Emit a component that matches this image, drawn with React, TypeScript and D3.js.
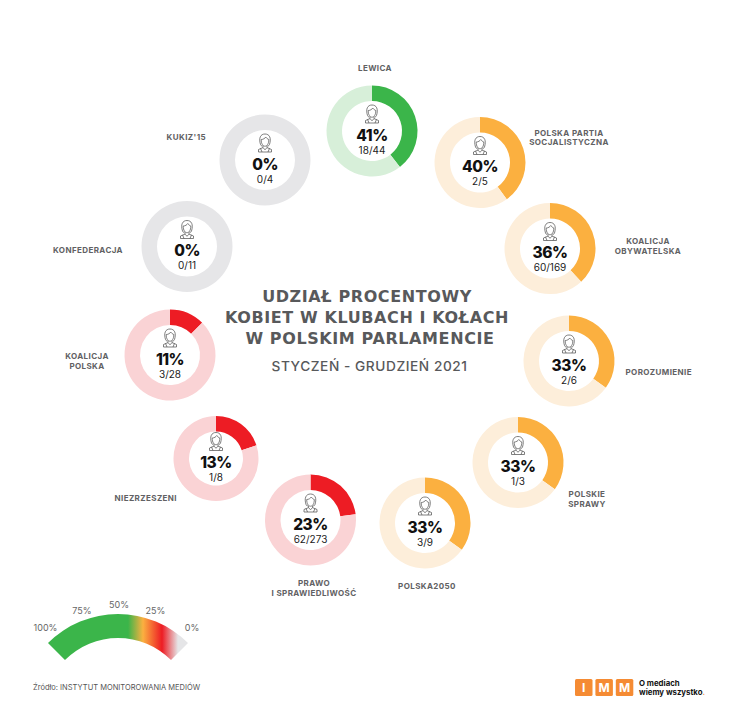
import * as d3 from "d3";

const clubs = [
  ["LEWICA"],
  ["POLSKA PARTIA", "SOCJALISTYCZNA"],
  ["KOALICJA", "OBYWATELSKA"],
  ["POROZUMIENIE"],
  ["POLSKIE", "SPRAWY"],
  ["POLSKA2050"],
  ["PRAWO", "I SPRAWIEDLIWOŚĆ"],
  ["NIEZRZESZENI"],
  ["KOALICJA", "POLSKA"],
  ["KONFEDERACJA"],
  ["KUKIZ'15"],
];
const women = [18, 2, 60, 2, 1, 3, 62, 1, 3, 0, 0];
const totals = [44, 5, 169, 6, 3, 9, 273, 8, 28, 11, 4];
const percents = [41, 40, 36, 33, 33, 33, 23, 13, 11, 0, 0];
// the coloured part of each ring as it is drawn in the picture (not always the printed %)
const arcShares = [39.5, 40, 38, 35, 35, 35, 23, 20, 12.5, 0, 0];
const scaleLabels = ["100%", "75%", "50%", "25%", "0%"];
const titleLines = ["UDZIAŁ PROCENTOWY", "KOBIET W KLUBACH I KOŁACH", "W POLSKIM PARLAMENCIE"];

// ring centres and label anchors on the page
const centers = [
  [372, 131], [480, 162.5], [550, 248.5], [569, 361], [518, 462.5], [425, 523],
  [310.5, 520], [216, 458.5], [170, 355], [187, 246.5], [265, 160],
];
const radii = [45.5, 45.5, 45.5, 45.5, 45.5, 45.5, 45.5, 42.5, 45.5, 45.5, 45.5];
const labelPos: [number, number, string][] = [
  [375, 70.5, "middle"], [569, 135.5, "middle"], [648, 244, "middle"], [625.5, 375, "start"],
  [587, 497, "middle"], [427, 589, "middle"], [314, 586, "middle"], [177, 501, "end"],
  [87, 359, "middle"], [123, 252.5, "end"], [206, 140, "end"],
];

const font = "Inter, 'Open Sans', sans-serif";
const titleFont = "'DejaVu Sans', Inter, sans-serif";

const colorFor = (p: number) =>
  p >= 41 ? ["#3bb54a", "#d7efd9"]
  : p >= 25 ? ["#fbb040", "#fdeeda"]
  : p > 0 ? ["#ed1c24", "#fad3d5"]
  : ["#e6e6e8", "#e6e6e8"];

const Person = ({ y }: { y: number }) => (
  <g transform={`translate(0,${y})`} fill="none" stroke="#555" strokeWidth={0.75}>
    <path d="M-4.5,1.5 C-6.5,-5 -4.5,-9 0,-9 C4.5,-9 6.5,-5 4.5,1.5 C4,3 3,3 2.4,2.6" />
    <path d="M-4.5,1.5 C-4,3 -3,3 -2.4,2.6" />
    <path d="M-3.8,-3.5 C-1.5,-3.5 0,-4.8 0.8,-6 C1.6,-4.8 2.6,-3.8 3.8,-3.5" />
    <path d="M-3.8,-3.5 C-3.8,1 -2,3.2 0,3.2 C2,3.2 3.8,1 3.8,-3.5" />
    <path d="M-2,3 L-2,4.6 L-6.5,6.5 L-6.5,9 L6.5,9 L6.5,6.5 L2,4.6 L2,3" />
    <path d="M-2,4.6 L0,6.8 L2,4.6 M-4.5,5.4 L-3,9 M4.5,5.4 L3,9" />
  </g>
);

const Ring = ({ i }: { i: number }) => {
  const [cx, cy] = centers[i];
  const r = radii[i];
  const [main, pale] = colorFor(percents[i]);
  const pie = d3.pie<number>().sort(null);
  const arc = d3.arc<d3.PieArcDatum<number>>().innerRadius(r - 15.5).outerRadius(r);
  const slices = pie([arcShares[i], 100 - arcShares[i]]);
  return (
    <g transform={`translate(${cx},${cy})`}>
      {slices.map((s, k) => (
        <path key={k} d={arc(s) ?? ""} fill={k === 0 ? main : pale} />
      ))}
      <Person y={-17} />
      <text y={9.5} textAnchor="middle" fontFamily={font} fontWeight={800} fontSize={15.5} letterSpacing={-0.5} fill="#111">
        {percents[i]}%
      </text>
      <text y={22.5} textAnchor="middle" fontFamily={font} fontSize={10} fill="#222">
        {women[i]}/{totals[i]}
      </text>
    </g>
  );
};

// gauge at the bottom: ±45° band, coloured left to right
const gaugeX = d3.scaleLinear().domain([-99, 99]).range([0, 100]);
const gaugeStops: [number, string][] = [
  [10, "#3bb54a"], [25, "#fbb040"], [44, "#ed1c24"], [60, "#e5e5e7"],
];
const gaugeArc = d3.arc()({
  innerRadius: 75,
  outerRadius: 99,
  startAngle: -Math.PI / 4,
  endAngle: Math.PI / 4,
});
const gaugeLabelPos = [
  [45.5, 630.5], [82, 614], [119, 608], [155.5, 614], [192, 630.5],
];

export default function App() {
  return (
    <svg width={738} height={720} style={{ position: "absolute", left: 0, top: 0, background: "#fff" }}>
      <defs>
        <linearGradient id="gauge" gradientUnits="userSpaceOnUse" x1={-99} x2={99} y1={0} y2={0}>
          {gaugeStops.map(([x, c]) => (
            <stop key={c} offset={`${gaugeX(x)}%`} stopColor={c} />
          ))}
        </linearGradient>
      </defs>

      {clubs.map((_, i) => <Ring key={i} i={i} />)}

      {clubs.map((lines, i) => (
        <text key={i} x={labelPos[i][0]} y={labelPos[i][1]} textAnchor={labelPos[i][2] as "start"}
          fontFamily={font} fontWeight={700} fontSize={8} letterSpacing={0.4} fill="#616163">
          {lines.map((l, k) => (
            <tspan key={k} x={labelPos[i][0]} dy={k ? 9.6 : 0}>{l}</tspan>
          ))}
        </text>
      ))}

      {titleLines.map((t, i) => (
        <text key={t} x={[367, 367, 370][i]} y={302 + i * 21} textAnchor="middle" fontFamily={titleFont} fontWeight={700}
          fontSize={16} letterSpacing={0.6} fill="#58595b">{t}</text>
      ))}
      <text x={369.5} y={371} textAnchor="middle" fontFamily={font} fontWeight={500} fontSize={13.7}
        letterSpacing={0.55} fill="#58595b">STYCZEŃ - GRUDZIEŃ 2021</text>

      <path d={gaugeArc ?? ""} transform="translate(118,713)" fill="url(#gauge)" />
      {scaleLabels.map((l, i) => (
        <text key={l} x={gaugeLabelPos[i][0]} y={gaugeLabelPos[i][1]} textAnchor="middle" fontFamily={font}
          fontSize={9} fill="#666">{l}</text>
      ))}

      <text x={33} y={690} fontFamily={font} fontSize={7.5} fill="#555">Źródło: INSTYTUT MONITOROWANIA MEDIÓW</text>

      {["I", "M", "M"].map((l, i) => (
        <g key={i} transform={`translate(${575 + i * 20.4},679)`}>
          <rect width={17.5} height={17} rx={1.5} fill="#f58b33" />
          <text x={8.75} y={13} textAnchor="middle" fontFamily={font} fontWeight={700} fontSize={12} fill="#fff">{l}</text>
        </g>
      ))}
      <text fontFamily={font} fontWeight={700} fontSize={7.8} fill="#111">
        <tspan x={639} y={685.5}>O mediach</tspan>
        <tspan x={639} y={694.5}>wiemy wszystko</tspan>
        <tspan fill="#f58b33">.</tspan>
      </text>
    </svg>
  );
}
